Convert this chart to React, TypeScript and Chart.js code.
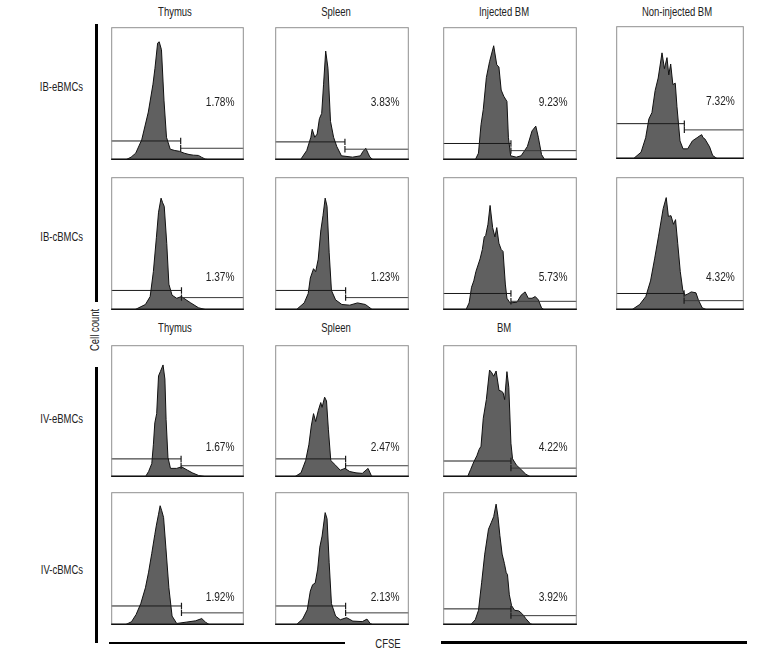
import React, { useEffect, useRef } from "react";
import { Chart, registerables } from "chart.js";
Chart.register(...registerables);

type Pt = [number, number];

// CFSE histograms: [CFSE channel (0-100), cell count (% of panel max)]
const thymusIBe: Pt[] = [[0,0],[11,0],[15,2],[18.5,5],[23,15],[28,36],[31.5,57],[33,69],[35,88],[36.2,89],[37.9,83],[39.8,45],[41.7,17],[44.5,8],[48,7],[51.6,6.4],[55,5],[58.7,4],[62,3.5],[65.8,3.3],[68,2],[71,0.5],[74,0],[100,0]];
const spleenIBe: Pt[] = [[0,0],[18.9,0],[23.6,7],[26.7,17],[27.7,23],[29.6,17],[31.4,19.4],[33.1,31],[34.8,35],[36.2,57],[37.8,82],[39.5,69],[41.4,29],[43.7,17],[46.1,10],[49.6,3],[57.9,2],[63.8,3],[65.5,6],[67.8,8.7],[69.5,5],[70.9,2],[73.3,0],[100,0]];
const injBmIBe: Pt[] = [[0,0],[24,0],[26.4,5],[28.3,26.5],[30,38],[32.3,62],[34.7,74],[37.8,86],[40.1,71.6],[41.7,70],[43.4,52.6],[45.3,48],[47.7,44],[48.8,17],[50.5,3],[54.7,2],[58.3,3],[63,10],[66.5,21.8],[69.3,25.4],[71.2,17],[73.6,4],[76,0],[100,0]];
const nonInjBmIBe: Pt[] = [[0,0],[13.4,0],[19.5,5],[23.1,15.9],[25.6,30],[28,34.8],[30.5,51.4],[32.9,60.9],[35.9,79.9],[37.8,68],[39.8,76.3],[41.2,63.3],[42.7,71.5],[44.4,56],[46.3,57],[47.6,39.5],[50,13.5],[52.4,7.5],[56,7.5],[59.7,13.5],[63.4,15.9],[65,17],[67,18.2],[68,16],[69.5,15],[73.2,9],[75.6,2.5],[79.3,0],[100,0]];
const thymusIBc: Pt[] = [[0,0],[17.7,0],[25.8,4],[29.4,10],[31.8,28.8],[34.1,54.7],[35.7,73.6],[37.6,84.2],[38.8,80.7],[40,78],[41.9,50],[43.5,19.3],[45.9,11],[49.4,8.7],[53,10],[56.5,7.5],[60,5.2],[65.9,1.5],[71.8,0],[100,0]];
const spleenIBc: Pt[] = [[0,0],[15.7,0],[21.7,5.2],[24.7,12.2],[26.3,24],[28.7,31],[30.3,28.8],[32.2,38.2],[34.1,59.4],[35.8,71.2],[37.4,84.2],[38.8,78],[40.4,43],[42.1,14.6],[45.2,7.5],[49.9,4],[55.8,3.5],[61.6,5.2],[67.5,4],[72.2,0.5],[73,0],[100,0]];
const injBmIBc: Pt[] = [[0,0],[17,0],[19.4,5.2],[21.2,17],[22.9,21.8],[24.5,28.9],[27.6,38.4],[29.3,45.5],[30.7,54.9],[31.8,56],[33.5,64.5],[35.1,78.7],[37,62],[38.7,55],[40.1,62],[41.7,50.2],[43.4,45.5],[44.8,44],[46.5,19.4],[47.7,8.7],[50,5.2],[55.2,5.7],[58.3,11],[61.3,13.5],[63.7,8.7],[66.5,8.7],[68.9,10],[71.2,7.5],[73.6,1.5],[75.5,0],[100,0]];
const nonInjBmIBc: Pt[] = [[0,0],[12.2,0],[18.4,4],[23.2,10],[26.9,21.8],[30.1,38.4],[33.1,55],[36.8,76.3],[39.2,84.6],[40.9,70.4],[42.9,71],[44.9,64.5],[46.5,68],[48.2,50.2],[50.2,28.9],[52.2,14.7],[53.9,11],[56.3,12],[58.8,13.5],[62.5,12.8],[64.4,7.5],[67.4,1.5],[71,0],[100,0]];
const thymusIVe: Pt[] = [[0,0],[25.8,0],[28.2,4],[30.6,10],[31.8,24.3],[32.9,41],[34.3,48],[35.7,76.7],[37.1,80],[39.1,85],[40.5,74.3],[41.4,43.4],[42.8,14.8],[44.7,6.4],[49.4,6.4],[53,7.6],[57.6,5],[61.2,3],[65.9,1],[71.8,0],[100,0]];
const spleenIVe: Pt[] = [[0,0],[14.6,0],[19.3,3],[22.8,12.4],[25.2,24.3],[27,38.6],[28.7,48],[30.3,42],[32.3,50.5],[34.1,56.4],[35.1,52.8],[37,60.5],[38.4,57.6],[39.8,36.2],[41.6,12.4],[45.2,8.8],[48.7,5],[52.2,6.4],[55.8,4],[60.5,3],[65.2,2.6],[69.5,6.4],[71.9,1],[73.2,0],[100,0]];
const bmIVe: Pt[] = [[0,0],[18.2,0],[20.5,5.5],[22.9,11.3],[25.2,16],[26.9,20.8],[28.3,23.2],[30,44.5],[32.3,58.7],[34.7,81.1],[36.4,79],[37.8,76.4],[39.6,80.4],[41.8,65.7],[43.6,65],[44.8,64],[46,58.7],[47.7,79.9],[49.1,68],[50.7,25.5],[51.9,13.7],[54.7,9],[58.3,5.5],[61.8,2],[65.3,0],[100,0]];
const thymusIVc: Pt[] = [[0,0],[10.6,0],[15.3,2.3],[18.8,7.8],[22.3,16],[25.8,27.9],[28.2,39.7],[30.6,53.9],[32.9,68.1],[34.1,75.2],[35.7,83.4],[36.9,89.8],[38.1,86],[39.5,81],[41.2,58.6],[43.5,27.9],[45.9,6.6],[49.4,1],[56.5,2],[63.6,3],[68.3,4.7],[71.1,2],[74.2,0],[100,0]];
const spleenIVc: Pt[] = [[0,0],[15.7,0],[20.5,4.3],[24,11.3],[26.3,25.5],[28,30.2],[29.9,31.4],[31.8,42],[33.4,58.6],[35.1,66.9],[37.4,84.6],[38.8,80],[40.4,46.8],[42.1,16],[45.2,6.6],[48.7,3.8],[53.4,5.4],[58.1,2.8],[65.2,2.4],[68.7,4.3],[71.1,1],[73.2,0],[100,0]];
const bmIVc: Pt[] = [[0,0],[20.5,0],[24,3.8],[26.4,10.9],[28.8,32.1],[31.1,53.3],[33.9,72.1],[35.9,76.9],[37.8,81.6],[39.6,91],[41,81.6],[42.4,67.5],[44.1,53.3],[45.8,46.3],[47.2,39.2],[48.1,38],[49.5,22.6],[51.2,14.4],[53.5,10.9],[56.6,10.5],[59.4,8],[61.8,4.7],[65.3,0.7],[67.6,0],[100,0]];

const histograms: Pt[][] = [
  thymusIBe, spleenIBe, injBmIBe, nonInjBmIBe,
  thymusIBc, spleenIBc, injBmIBc, nonInjBmIBc,
  thymusIVe, spleenIVe, bmIVe,
  thymusIVc, spleenIVc, bmIVc,
];
const gateX = [52.4, 52.2, 50.7, 53.4, 53, 52.7, 50.7, 53.2, 52.7, 52.7, 50.7, 53, 52.7, 50.7];
const gateLeftLevel = [14.2, 13.5, 12.3, 26.5, 14.6, 14.6, 12.3, 12.3, 13.6, 13.6, 12, 14.2, 14.2, 12];
const gateRightLevel = [8.7, 8, 6.9, 21.8, 9.2, 9.2, 6.4, 6.9, 8.4, 8.4, 6.6, 9, 9, 6.9];
const percentages = ["1.78%", "3.83%", "9.23%", "7.32%", "1.37%", "1.23%", "5.73%", "4.32%", "1.67%", "2.47%", "4.22%", "1.92%", "2.13%", "3.92%"];

const rowLabels = ["IB-eBMCs", "IB-cBMCs", "IV-eBMCs", "IV-cBMCs"];
const topTitles = ["Thymus", "Spleen", "Injected BM", "Non-injected BM"];
const bottomTitles = ["Thymus", "Spleen", "BM"];

// layout (pixels)
const colLeft = [107, 271, 439, 612];
const colWidth = [141, 142, 142, 136];
const rowTop = [23, 173, 341, 488];
const rowHeight = [141, 141, 140, 141];
const panelCell: [number, number][] = [
  [0, 0], [0, 1], [0, 2], [0, 3],
  [1, 0], [1, 1], [1, 2], [1, 3],
  [2, 0], [2, 1], [2, 2],
  [3, 0], [3, 1], [3, 2],
];
const labelLevel = [43, 24.5, 22.5, 21];

const FONT = "'Liberation Sans',Arial,sans-serif";
const SQUEEZE = 0.73;
const PCT_SQUEEZE = 0.78;

const decoPlugin = {
  id: "panelDeco",
  afterDatasetsDraw(chart: any, _args: any, opts: any) {
    const { ctx, chartArea: a, scales } = chart;
    ctx.save();
    ctx.strokeStyle = "#8f8f8f";
    ctx.lineWidth = 1;
    ctx.strokeRect(a.left + 0.5, a.top + 0.5, a.right - a.left - 1, a.bottom - a.top - 1);
    ctx.strokeStyle = "#111";
    ctx.lineWidth = 1.5;
    ctx.beginPath();
    ctx.moveTo(a.left, a.bottom - 0.5);
    ctx.lineTo(a.right, a.bottom - 0.5);
    ctx.stroke();
    ctx.font = `13px ${FONT}`;
    ctx.fillStyle = "#222";
    ctx.textAlign = "right";
    ctx.textBaseline = "middle";
    ctx.translate(scales.x.getPixelForValue(93), scales.y.getPixelForValue(opts.level));
    ctx.scale(PCT_SQUEEZE, 1);
    ctx.fillText(opts.text, 0, 0);
    ctx.restore();
  },
};

function Panel({ idx }: { idx: number }) {
  const ref = useRef<HTMLCanvasElement | null>(null);
  const [row, col] = panelCell[idx];
  const w = colWidth[col];
  const h = rowHeight[row];
  const top = idx === 3 ? rowTop[row] - 1 : rowTop[row];
  useEffect(() => {
    if (!ref.current) return;
    const hist = histograms[idx];
    const gx = gateX[idx];
    const chart = new Chart(ref.current, {
      type: "line",
      data: {
        datasets: [
          {
            data: [{ x: 0, y: gateLeftLevel[idx] }, { x: gx, y: gateLeftLevel[idx] }],
            borderColor: "#1a1a1a",
            borderWidth: 1,
            pointRadius: [0, 3.2],
            pointStyle: "line",
            rotation: 90,
            pointBorderColor: "#1a1a1a",
            pointBorderWidth: 1.2,
            fill: false,
            order: 1,
          } as any,
          {
            data: [{ x: gx, y: gateRightLevel[idx] }, { x: 100, y: gateRightLevel[idx] }],
            borderColor: "#3a3a3a",
            borderWidth: 1,
            pointRadius: [3.2, 0],
            pointStyle: "line",
            rotation: 90,
            pointBorderColor: "#1a1a1a",
            pointBorderWidth: 1.2,
            fill: false,
            order: 1,
          } as any,
          {
            data: hist.map(([x, y]) => ({ x, y })),
            borderColor: "#111",
            borderWidth: 1,
            backgroundColor: "#606060",
            fill: "origin",
            pointRadius: 0,
            tension: 0,
            order: 2,
          } as any,
        ],
      },
      options: {
        animation: false,
        responsive: false,
        maintainAspectRatio: false,
        events: [],
        layout: { padding: 1 },
        plugins: {
          legend: { display: false },
          tooltip: { enabled: false },
          panelDeco: { text: percentages[idx], level: labelLevel[row] },
        } as any,
        scales: {
          x: { type: "linear", min: 0, max: 100, display: false },
          y: { min: 0, max: 100, display: false },
        },
      },
      plugins: [decoPlugin as any],
    });
    return () => chart.destroy();
  }, [idx]);
  return (
    <canvas
      ref={ref}
      width={w + 2}
      height={h + 2}
      style={{ position: "absolute", left: colLeft[col] - 1, top: top - 1, width: w + 2, height: h + 2 }}
    />
  );
}

const boxBase: React.CSSProperties = {
  position: "absolute",
  fontFamily: FONT,
  fontSize: 13,
  color: "#222",
  whiteSpace: "nowrap",
  lineHeight: "14px",
  height: 14,
};

function Label({ text, cx, cy, align, rotate }: { text: string; cx: number; cy: number; align: "center" | "right"; rotate?: boolean }) {
  // cx: centre x (align center) or right edge (align right); cy: vertical centre
  const width = 140;
  const left = align === "center" ? cx - width / 2 : cx - width;
  const origin = align === "center" ? "50% 50%" : "100% 50%";
  return (
    <div
      style={{
        ...boxBase,
        left,
        top: cy - 7,
        width,
        textAlign: align,
        transform: rotate ? `rotate(-90deg) scaleX(${SQUEEZE})` : `scaleX(${SQUEEZE})`,
        transformOrigin: origin,
      }}
    >
      {text}
    </div>
  );
}

export default function App() {
  const titleCenters = [175, 336, 504, 677];
  const rowLabelY = [87, 237, 419, 570];
  return (
    <div style={{ position: "absolute", left: 0, top: 0, width: 780, height: 660, background: "#fff", overflow: "hidden" }}>
      {topTitles.map((t, i) => (
        <Label key={"tt" + i} text={t} cx={titleCenters[i]} cy={12} align="center" />
      ))}
      {bottomTitles.map((t, i) => (
        <Label key={"bt" + i} text={t} cx={titleCenters[i]} cy={328} align="center" />
      ))}
      {rowLabels.map((t, i) => (
        <Label key={"rl" + i} text={t} cx={83} cy={rowLabelY[i]} align="right" />
      ))}
      <Label text="Cell count" cx={95} cy={330} align="center" rotate />
      <Label text="CFSE" cx={388} cy={644} align="center" />
      <div style={{ position: "absolute", left: 95, top: 24, width: 2.5, height: 278, background: "#000" }} />
      <div style={{ position: "absolute", left: 95, top: 367, width: 2.5, height: 276, background: "#000" }} />
      <div style={{ position: "absolute", left: 109, top: 641.5, width: 236, height: 2.5, background: "#000" }} />
      <div style={{ position: "absolute", left: 441, top: 641, width: 306, height: 2.5, background: "#000" }} />
      {histograms.map((_, i) => (
        <Panel key={i} idx={i} />
      ))}
    </div>
  );
}
